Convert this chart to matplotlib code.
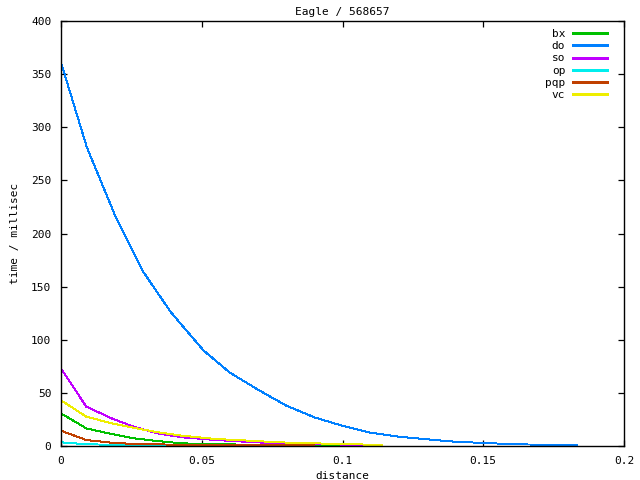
import matplotlib
matplotlib.use('Agg')
from matplotlib import pyplot as plt

# distances and timings
do_x = [0, 0.0092, 0.0192, 0.0292, 0.039, 0.0506, 0.06, 0.07, 0.08, 0.09, 0.1,
        0.11, 0.12, 0.13, 0.14, 0.1535, 0.1637, 0.1833]
do_y = [361, 281, 217, 164, 126, 90, 69, 53, 38, 27, 19,
        12.5, 8.8, 6.3, 4, 2.5, 1.5, 0.8]

small_x = [0, 0.009, 0.018, 0.026, 0.0345, 0.043, 0.055, 0.067, 0.077, 0.09, 0.104, 0.114]
so_y = [73, 37, 26, 18, 11.8, 8.2, 5.6, 3.8, 2.5, 1.8, 1.2, 0.9]
vc_y = [43, 27.6, 21.3, 17, 12.9, 9.7, 6.6, 5, 3.5, 2.5, 1.6, 1.0]
bx_y = [30.7, 16.6, 11.3, 7.2, 4.6, 2.5, 1.6, 1.3, 1.0, 0.8, 0.6]
pqp_y = [14.4, 5.6, 3.1, 1.9, 1.5, 1.2, 1.0, 0.8, 0.6, 0.5]
op_y = [3.5, 1.6, 1.2, 1.0, 0.8, 0.6, 0.5, 0.4]

series = [
    ('bx', small_x[:len(bx_y)], bx_y, '#00c000'),
    ('do', do_x, do_y, '#0080ff'),
    ('so', small_x[:len(so_y)], so_y, '#c000ff'),
    ('op', small_x[:len(op_y)], op_y, '#00eeee'),
    ('pqp', small_x[:len(pqp_y)], pqp_y, '#c04000'),
    ('vc', small_x[:len(vc_y)], vc_y, '#eeee00'),
]

plt.rcParams['font.family'] = ['DejaVu Sans Mono']
plt.rcParams['font.size'] = 8

fig = plt.figure(figsize=(6.4, 4.8), dpi=100)
ax = fig.add_axes([61 / 640, 34 / 480, 563 / 640, 425 / 480])

for name, xs, ys, col in series:
    ax.plot(xs, ys, color=col, lw=0.7, label=name, antialiased=False)

ax.set_xlim(0, 0.2)
ax.set_ylim(0, 400)
ax.set_xticks([0, 0.05, 0.1, 0.15, 0.2])
ax.set_xticklabels(['0', '0.05', '0.1', '0.15', '0.2'])
ax.set_yticks(range(0, 401, 50))
ax.tick_params(direction='in', length=4, width=0.9, top=True, right=True, pad=7)
for sp in ax.spines.values():
    sp.set_linewidth(1)

ax.set_title('Eagle / 568657', fontsize=8, pad=4)
ax.set_xlabel('distance', labelpad=4)
ax.set_ylabel('time / millisec', labelpad=8)

leg = ax.legend(loc='upper right', frameon=False, markerfirst=False, handlelength=3.1,
                handletextpad=0.65, labelspacing=0.2, borderaxespad=0, borderpad=0,
                bbox_to_anchor=(607 / 640, 1 - 29 / 480), bbox_transform=fig.transFigure)
for h in leg.get_lines():
    h.set_linewidth(0.85)
    h.set_antialiased(False)

fig.savefig('out.png', dpi=100)
